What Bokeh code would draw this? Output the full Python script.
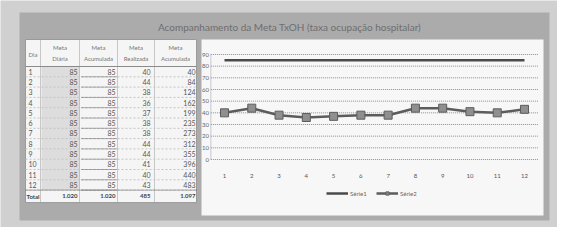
from bokeh.plotting import figure
from bokeh.models import Range1d, ColumnDataSource, Legend, LegendItem
from bokeh.embed import file_html
from bokeh.resources import INLINE
from bokeh.core.properties import value

# ---------------- data ----------------
title_text = "Acompanhamento da Meta TxOH (taxa ocupação hospitalar)"
dias = [1, 2, 3, 4, 5, 6, 7, 8, 9, 10, 11, 12]
meta_diaria = [85, 85, 85, 85, 85, 85, 85, 85, 85, 85, 85, 85]
meta_acumulada = [85, 85, 85, 85, 85, 85, 85, 85, 85, 85, 85, 85]
meta_realizada = [40, 44, 38, 36, 37, 38, 38, 44, 44, 41, 40, 43]
realizada_acumulada = [40, 84, 124, 162, 199, 235, 273, 312, 355, 396, 440, 483]
totais = ["1.020", "1.020", "485", "1.097"]
total_label = "Total"
header_dia = "Dia"
header_line1 = ["Meta", "Meta", "Meta", "Meta"]
header_line2 = ["Diária", "Acumulada", "Realizada", "Acumulada"]
y_ticks = [0, 10, 20, 30, 40, 50, 60, 70, 80, 90]
series_names = ["Série1", "Série2"]

# ---------------- styles / layout constants ----------------
W, H = 557, 227
OUTER = "#d0d0d0"
PANEL = "#ababab"
WHITE = "#f5f5f5"
CHART_BG = "#f7f7f7"
FONT = "Lato"
TXT = "#555555"

# chart plot area in page pixels (origin top-left of the figure)
CAT1_PX, CAT12_PX = 224.0, 524.0      # centres of first / last category
Y0_PX, Y90_PX = 159.0, 54.0           # pixel rows of value 0 and 90
ppx = (CAT12_PX - CAT1_PX) / 11.0
ppy = (Y0_PX - Y90_PX) / 90.0
x_start = 1 - CAT1_PX / ppx
x_end = 12 + (W - CAT12_PX) / ppx
y_start = -(H - Y0_PX) / ppy
y_end = 90 + Y90_PX / ppy

p = figure(width=W, height=H, x_range=Range1d(x_start, x_end),
           y_range=Range1d(y_start, y_end), output_backend="svg",
           toolbar_location=None, min_border=0,
           x_axis_location=None, y_axis_location=None)
p.extra_x_ranges = {"px": Range1d(0, W)}
p.extra_y_ranges = {"px": Range1d(H, 0)}
p.xgrid.visible = False
p.ygrid.visible = False
p.outline_line_color = None
p.background_fill_color = OUTER
p.border_fill_color = OUTER

PX = dict(x_range_name="px", y_range_name="px")

# ---------------- backgrounds and title ----------------
p.quad(left=19, right=549, top=12, bottom=220, fill_color=PANEL, line_color=None, **PX)
p.text(x=[289], y=[26], text=[title_text], text_font=value(FONT),
       text_font_size="10px", text_color="#6e6e6e", text_align="center",
       text_baseline="middle", **PX)
p.quad(left=201, right=543, top=39, bottom=215, fill_color=CHART_BG,
       line_color=None, **PX)

# ---------------- table ----------------
col_edges = [25, 40, 79, 117, 154, 196]
tab_top, head_bot, row_h = 39, 66, 10.3
n = len(dias)
rows_bot = head_bot + n * row_h
tab_bot = rows_bot + 12.5

p.quad(left=col_edges[0], right=col_edges[-1], top=tab_top, bottom=tab_bot,
       fill_color=WHITE, line_color="#9a9a9a", line_width=1, **PX)
p.quad(left=col_edges[1] + 1, right=col_edges[2], top=head_bot, bottom=rows_bot,
       fill_color="#dddddd", line_color=None, **PX)
vx = col_edges[1:-1]
p.segment(x0=vx, y0=[tab_top] * len(vx), x1=vx, y1=[tab_bot] * len(vx),
          line_color="#9a9a9a", line_dash="1 1", line_width=1, **PX)
p.segment(x0=[col_edges[0]], y0=[head_bot], x1=[col_edges[-1]], y1=[head_bot],
          line_color="#8a8a8a", line_width=1, **PX)
ys = [head_bot + (i + 1) * row_h for i in range(n)]
p.segment(x0=[col_edges[0]] * n, y0=ys, x1=[col_edges[-1]] * n, y1=ys,
          line_color="#c4c4c4", line_dash="2 2", line_width=1, **PX)
p.segment(x0=[col_edges[2] + 2] * n, y0=ys, x1=[col_edges[3] - 1] * n, y1=ys,
          line_color="#606060", line_dash="1 1", line_width=1, **PX)
p.segment(x0=[col_edges[0]], y0=[rows_bot], x1=[col_edges[-1]], y1=[rows_bot],
          line_color="#555555", line_dash="1 1", line_width=1, **PX)

centers = [(col_edges[i] + col_edges[i + 1]) / 2 for i in range(5)]
p.text(x=centers[1:], y=[tab_top + 8] * 4, text=header_line1, text_font=value(FONT),
       text_font_size="6px", text_color="#777777", text_align="center",
       text_baseline="middle", **PX)
p.text(x=centers[1:], y=[tab_top + 19] * 4, text=header_line2, text_font=value(FONT),
       text_font_size="6px", text_color="#777777", text_align="center",
       text_baseline="middle", **PX)
p.text(x=[centers[0]], y=[tab_top + 15], text=[header_dia], text_font=value(FONT),
       text_font_size="6px", text_color="#777777", text_align="center",
       text_baseline="middle", **PX)

row_y = [head_bot + (i + 0.5) * row_h for i in range(n)]
p.text(x=[28] * n, y=row_y, text=[str(d) for d in dias], text_font=value(FONT),
       text_font_size="7px", text_color=TXT, text_align="left",
       text_baseline="middle", **PX)
val_right = [77, 115, 150, 195]
value_cols = [meta_diaria, meta_acumulada, meta_realizada, realizada_acumulada]
for xr, vals in zip(val_right, value_cols):
    p.text(x=[xr] * n, y=row_y, text=[str(v) for v in vals], text_font=value(FONT),
           text_font_size="7px", text_color=TXT, text_align="right",
           text_baseline="middle", **PX)
tot_y = rows_bot + 6
p.text(x=[26], y=[tot_y], text=[total_label], text_font=value(FONT),
       text_font_size="6px", text_font_style="bold", text_color="#444444",
       text_align="left", text_baseline="middle", **PX)
p.text(x=val_right, y=[tot_y] * 4, text=totais, text_font=value(FONT),
       text_font_size="6px", text_font_style="bold", text_color="#444444",
       text_align="right", text_baseline="middle", **PX)

# ---------------- chart (data scales) ----------------
XL, XR = 0.5, 12.5   # category band edges of the plot area
p.segment(x0=[XL] * len(y_ticks), y0=y_ticks, x1=[XR] * len(y_ticks), y1=y_ticks,
          line_color="#8e8e8e", line_dash="1 1", line_width=1)
p.segment(x0=[XL], y0=[y_ticks[0]], x1=[XL], y1=[y_ticks[-1]],
          line_color="#9a9a9a", line_dash="1 1", line_width=1)
p.text(x=[XL] * len(y_ticks), y=y_ticks, text=[str(t) for t in y_ticks],
       x_offset=-2, text_font=value(FONT), text_font_size="6px",
       text_color="#666666", text_align="right", text_baseline="middle")
p.text(x=dias, y=[0] * n, text=[str(d) for d in dias], y_offset=16,
       text_font=value(FONT), text_font_size="6px", text_color="#555555",
       text_align="center", text_baseline="middle")

src = ColumnDataSource(dict(dia=dias, s1=meta_diaria, s2=meta_realizada))
r1 = p.line(x="dia", y="s1", source=src, line_color="#4a4a4a", line_width=2.5)
r2 = p.line(x="dia", y="s2", source=src, line_color="#5c5c5c", line_width=2.5)
r3 = p.scatter(x="dia", y="s2", source=src, marker="square", size=8,
               fill_color="#8f8f8f", line_color="#5c5c5c", line_width=1)

legend = Legend(items=[LegendItem(label=series_names[0], renderers=[r1]),
                       LegendItem(label=series_names[1], renderers=[r2, r3])],
                orientation="horizontal", location=(326, 30))
legend.background_fill_alpha = 0
legend.border_line_color = None
legend.label_text_font_size = "6px"
legend.label_text_font = FONT
legend.label_text_color = "#666666"
legend.glyph_width = 22
legend.glyph_height = 8
legend.label_height = 8
legend.label_standoff = 2
legend.spacing = 6
legend.padding = 0
legend.margin = 0
p.add_layout(legend)

html = file_html(p, INLINE)
html = html.replace("<body>", '<body style="background-color:#d0d0d0">', 1)
open("out.html", "w").write(html)
